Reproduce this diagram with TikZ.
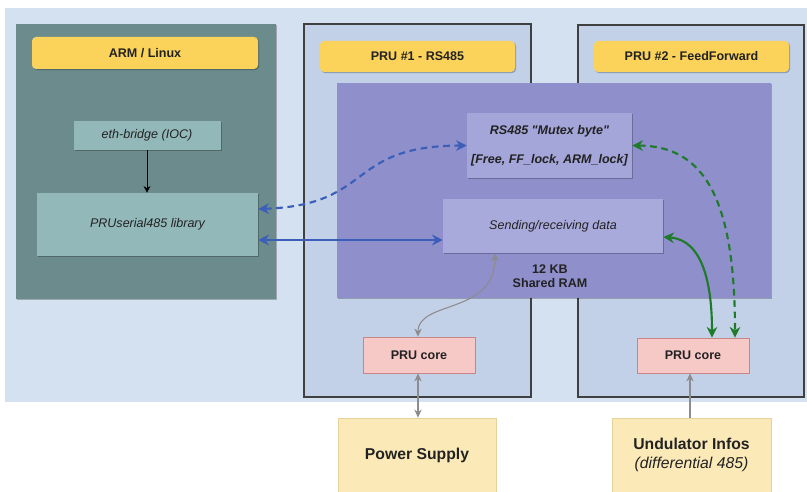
\documentclass[tikz,border=0pt]{standalone}
\usepackage{fontspec}
\setmainfont{Liberation Sans}[Ligatures=TeXOff]
\usetikzlibrary{arrows.meta,shadows}
\definecolor{bgblue}{HTML}{D4E1F0}
\definecolor{armfill}{HTML}{6B8B8C}
\definecolor{tealbox}{HTML}{93B8BA}
\definecolor{ylw}{HTML}{FBD35A}
\definecolor{prufill}{HTML}{C2D1E8}
\definecolor{purp}{HTML}{8E8FCB}
\definecolor{mutexfill}{HTML}{A4A5D9}
\definecolor{sendfill}{HTML}{A9AADC}
\definecolor{corefill}{HTML}{F6C9C6}
\definecolor{coreedge}{HTML}{C98585}
\definecolor{extfill}{HTML}{FBEAB8}
\definecolor{extedge}{HTML}{E3D39A}
\definecolor{arrblue}{HTML}{3B5FB8}
\definecolor{arrgreen}{HTML}{1F7A2A}
\definecolor{arrgray}{HTML}{8C8C8C}
\definecolor{txt}{HTML}{222222}
\tikzset{
  box/.style={rectangle, inner sep=0pt, align=center, text=txt,
    drop shadow={shadow xshift=0.8pt, shadow yshift=-0.8pt, opacity=0.25, fill=black}},
  lbl/.style={box, fill=ylw, rounded corners=3pt, font=\fontsize{9.4}{11}\selectfont\bfseries},
  teal/.style={box, fill=tealbox, font=\fontsize{9.4}{11}\selectfont\itshape},
  pruframe/.style={rectangle, inner sep=0pt, fill=prufill, draw=black!75, line width=0.9pt},
  memb/.style={box, font=\fontsize{9.4}{12}\selectfont\itshape},
  core/.style={box, fill=corefill, draw=coreedge, line width=0.6pt, font=\fontsize{9.4}{11}\selectfont\bfseries},
  ext/.style={box, fill=extfill, draw=extedge, line width=0.6pt, font=\fontsize{11.8}{14}\selectfont\bfseries},
  tip/.style={-{Stealth[length=6pt,width=5.5pt]}},
  gtip/.style={{Stealth[length=6pt,width=5.5pt]}-{Stealth[length=6pt,width=5.5pt]}},
  btip/.style={{Stealth[length=8pt,width=8pt]}-{Stealth[length=8pt,width=8pt]}},
  darr/.style={line width=1.6pt, dash pattern=on 5pt off 3.5pt},
}
\begin{document}
\begin{tikzpicture}[x=0.75pt,y=-0.75pt]
\useasboundingbox (0,0) rectangle (807,492);
\fill[white] (0,0) rectangle (807,492);
\fill[bgblue] (5,8) rectangle (807,402);
% ARM side
\node[box, fill=armfill, minimum width=195pt, minimum height=206.25pt] (arm) at (146,161.5) {};
\node[lbl, minimum width=169.5pt, minimum height=24pt] (armlbl) at (145,53) {ARM / Linux};
\node[teal, minimum width=110.25pt, minimum height=21.75pt] (eth) at (147,135.5) {eth-bridge (IOC)};
\node[teal, minimum width=165.75pt, minimum height=47.25pt] (lib) at (147.5,224.5) {PRUserial485 library};
% PRU frames
\node[pruframe, minimum width=170.25pt, minimum height=279.75pt] (pru1) at (417.5,210.5) {};
\node[pruframe, minimum width=169.5pt, minimum height=279pt] (pru2) at (691,211) {};
\node[lbl, minimum width=146.25pt, minimum height=23.25pt] (pru1lbl) at (417.5,56.5) {PRU \#1 - RS485};
\node[lbl, minimum width=146.25pt, minimum height=23.25pt] (pru2lbl) at (691.5,56.5) {PRU \#2 - FeedForward};
% shared RAM
\node[box, fill=purp, minimum width=325.5pt, minimum height=161.25pt] (ram) at (554,190.5) {};
\node[memb, fill=mutexfill, minimum width=123.75pt, minimum height=48.75pt, font=\fontsize{9.4}{22}\selectfont\bfseries\itshape] (mutex) at (549.5,145.5) {RS485 "Mutex byte"\\{}[Free, FF\_lock, ARM\_lock]};
\node[memb, fill=sendfill, minimum width=165pt, minimum height=40.5pt] (send) at (553,226) {Sending/receiving data};
\node[align=center, text=txt, font=\fontsize{9.4}{10.5}\selectfont\bfseries, inner sep=0pt] (ramtxt) at (550,276) {12 KB\\Shared RAM};
% cores
\node[core, minimum width=84pt, minimum height=27pt] (core1) at (419,355) {PRU core};
\node[core, minimum width=84pt, minimum height=26.25pt] (core2) at (693,355.5) {PRU core};
% external
\node[ext, minimum width=118.5pt, minimum height=55.5pt] (ps) at (417,455) {Power Supply};
\node[ext, minimum width=119.25pt, minimum height=55.5pt] (und) at (691.5,455) {Undulator Infos\\{\fontsize{11.8}{14}\selectfont\mdseries\itshape (differential 485)}};
% helper coordinates
\coordinate (yd) at (0,209);
\coordinate (ys) at (0,240);
\coordinate (yg) at (0,237);
\coordinate (xg1) at (712,0);
\coordinate (xg2) at (735,0);
\coordinate (xs) at (495,0);
\coordinate (xc1) at (418,0);
\coordinate (xu) at (690,0);
% connectors
\draw[-{Stealth[length=5pt,width=5pt]}, line width=0.6pt, black] (eth) -- (eth |- lib.north);
\draw[btip, darr, arrblue] (lib.east |- yd) .. controls (375,205) and (345,146) .. (mutex.west);
\draw[btip, line width=1.6pt, arrblue] (lib.east |- ys) -- (send.west |- ys);
\draw[btip, darr, arrgreen] (mutex.east) .. controls (705,146) and (735,200) .. (core2.north -| xg2);
\draw[btip, line width=1.6pt, arrgreen] (send.east |- yg) .. controls (705,240) and (712,290) .. (core2.north -| xg1);
\draw[gtip, line width=0.8pt, arrgray] (send.south -| xs) .. controls (495,315) and (418,300) .. (core1.north -| xc1);
\draw[gtip, line width=0.8pt, arrgray] (core1.south -| xc1) -- (ps.north -| xc1);
\draw[tip, line width=0.8pt, arrgray] (und.north -| xu) -- (core2.south -| xu);
\end{tikzpicture}
\end{document}
